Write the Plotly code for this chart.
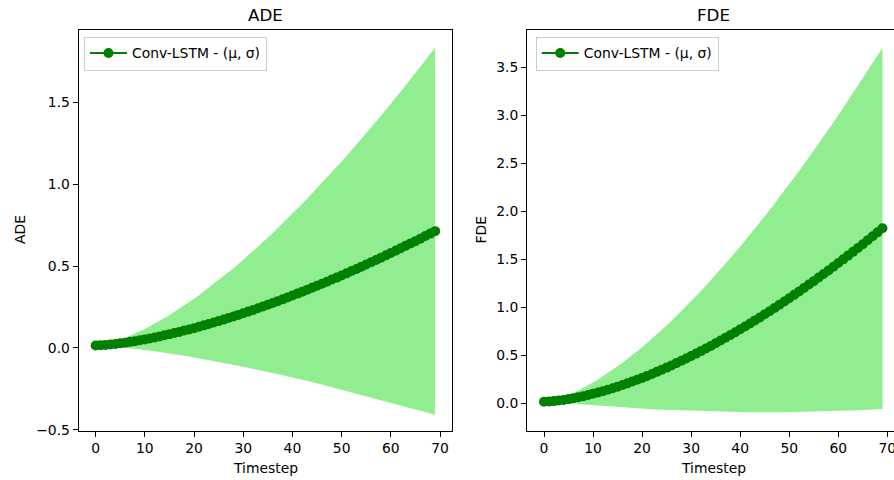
import numpy as np
import plotly.graph_objects as go

# ---------------- data ----------------
timesteps = list(range(70))

ade_mean = [
    0.015, 0.016, 0.018, 0.021, 0.024, 0.028, 0.032, 0.037, 0.041, 0.047, 0.052, 0.058, 0.064, 0.070,
    0.077, 0.084, 0.091, 0.098, 0.106, 0.113, 0.121, 0.129, 0.138, 0.146, 0.155, 0.164, 0.173, 0.183,
    0.192, 0.202, 0.212, 0.222, 0.232, 0.243, 0.253, 0.264, 0.275, 0.286, 0.297, 0.309, 0.320, 0.332,
    0.344, 0.356, 0.368, 0.380, 0.392, 0.405, 0.418, 0.430, 0.443, 0.456, 0.470, 0.483, 0.497, 0.510,
    0.524, 0.538, 0.552, 0.566, 0.580, 0.595, 0.609, 0.624, 0.639, 0.653, 0.668, 0.684, 0.699, 0.714,
]
ade_std = [
    0.000, 0.002, 0.006, 0.011, 0.017, 0.023, 0.030, 0.038, 0.046, 0.055, 0.064, 0.074, 0.084, 0.095,
    0.106, 0.117, 0.129, 0.141, 0.154, 0.166, 0.180, 0.193, 0.207, 0.221, 0.235, 0.250, 0.265, 0.280,
    0.295, 0.311, 0.327, 0.343, 0.360, 0.377, 0.394, 0.411, 0.428, 0.446, 0.464, 0.482, 0.501, 0.519,
    0.538, 0.557, 0.577, 0.596, 0.616, 0.636, 0.656, 0.676, 0.697, 0.717, 0.738, 0.759, 0.781, 0.802,
    0.824, 0.846, 0.868, 0.890, 0.913, 0.935, 0.958, 0.981, 1.004, 1.027, 1.051, 1.074, 1.098, 1.122,
]
fde_mean = [
    0.017, 0.019, 0.023, 0.029, 0.036, 0.044, 0.053, 0.063, 0.074, 0.086, 0.099, 0.112, 0.127, 0.142,
    0.157, 0.174, 0.191, 0.208, 0.227, 0.246, 0.265, 0.286, 0.306, 0.328, 0.350, 0.372, 0.395, 0.419,
    0.443, 0.467, 0.493, 0.518, 0.544, 0.571, 0.598, 0.626, 0.654, 0.683, 0.712, 0.741, 0.771, 0.801,
    0.832, 0.864, 0.895, 0.928, 0.960, 0.993, 1.027, 1.061, 1.095, 1.130, 1.165, 1.201, 1.237, 1.273,
    1.310, 1.347, 1.384, 1.422, 1.461, 1.500, 1.539, 1.578, 1.618, 1.658, 1.699, 1.740, 1.781, 1.823,
]
fde_std = [
    0.000, 0.004, 0.012, 0.021, 0.032, 0.044, 0.057, 0.071, 0.086, 0.102, 0.119, 0.136, 0.154, 0.173,
    0.192, 0.212, 0.233, 0.254, 0.275, 0.297, 0.320, 0.343, 0.367, 0.391, 0.415, 0.440, 0.466, 0.492,
    0.518, 0.544, 0.572, 0.599, 0.627, 0.655, 0.684, 0.712, 0.742, 0.771, 0.801, 0.832, 0.862, 0.893,
    0.925, 0.956, 0.988, 1.021, 1.053, 1.086, 1.119, 1.153, 1.186, 1.221, 1.255, 1.290, 1.325, 1.360,
    1.395, 1.431, 1.467, 1.503, 1.540, 1.577, 1.614, 1.651, 1.689, 1.727, 1.765, 1.803, 1.842, 1.881,
]

series_name = "Conv-LSTM - (\u03bc, \u03c3)"
panel_titles = ["ADE", "FDE"]
x_label = "Timestep"
x_ticks = [0, 10, 20, 30, 40, 50, 60, 70]
ade_ticks = [-0.5, 0.0, 0.5, 1.0, 1.5]
fde_ticks = [0.0, 0.5, 1.0, 1.5, 2.0, 2.5, 3.0, 3.5]

# ---------------- styling ----------------
W, H = 894, 480
FONT = "DejaVu Sans"
FILL = "#90EE90"
LINE = "#008000"
TICK_FS = 13.9
TITLE_FS = 16.7


def fmt(v):
    s = "%.1f" % v
    return s.replace("-", "\u2212")


fig = go.Figure()

panels = [
    (ade_mean, ade_std, "x", "y", "legend"),
    (fde_mean, fde_std, "x2", "y2", "legend2"),
]
for mean, std, xa, ya, lg in panels:
    m = np.array(mean)
    s = np.array(std)
    fig.add_trace(go.Scatter(x=timesteps, y=m + s, mode="lines", line=dict(width=0, color=FILL),
                             showlegend=False, hoverinfo="skip", xaxis=xa, yaxis=ya))
    fig.add_trace(go.Scatter(x=timesteps, y=m - s, mode="lines", line=dict(width=0, color=FILL),
                             fill="tonexty", fillcolor=FILL, showlegend=False, hoverinfo="skip",
                             xaxis=xa, yaxis=ya))
    fig.add_trace(go.Scatter(x=timesteps, y=m, mode="lines+markers", name=series_name,
                             line=dict(color=LINE, width=2.1),
                             marker=dict(color=LINE, size=10, line=dict(width=0)),
                             legend=lg, xaxis=xa, yaxis=ya))


def px_x(p):
    return p / W


def px_y(p):
    return 1 - p / H


axis_common = dict(
    showgrid=False, zeroline=False, showline=True, linecolor="black", linewidth=1,
    ticks="outside", ticklen=5, tickwidth=1, tickcolor="black", ticklabeloverflow="allow",
    tickfont=dict(family=FONT, size=TICK_FS, color="black"), automargin=False,
)

legend_common = dict(xanchor="left", yanchor="top", xref="paper", yref="paper",
                     bgcolor="rgba(255,255,255,0.8)", bordercolor="#cccccc", borderwidth=1,
                     font=dict(family=FONT, size=TICK_FS, color="black"), itemwidth=37)

fig.update_layout(
    width=W, height=H, margin=dict(l=0, r=0, t=0, b=0),
    paper_bgcolor="white", plot_bgcolor="white",
    xaxis=dict(domain=[px_x(78.7), px_x(452.1)], range=[-3.45, 72.45], anchor="y", mirror=True,
               tickvals=x_ticks, ticktext=[str(v) for v in x_ticks], **axis_common),
    yaxis=dict(domain=[px_y(430.5), px_y(30)], range=[-0.505, 1.944], anchor="x", mirror=True,
               tickvals=ade_ticks, ticktext=[fmt(v) for v in ade_ticks], **axis_common),
    xaxis2=dict(domain=[px_x(527.1), 1.0], range=[-3.45, 71.36], anchor="y2", mirror=True,
                tickvals=x_ticks, ticktext=[str(v) for v in x_ticks], **axis_common),
    yaxis2=dict(domain=[px_y(430.5), px_y(30)], range=[-0.283, 3.889], anchor="x2", mirror=False,
                tickvals=fde_ticks, ticktext=[fmt(v) for v in fde_ticks], **axis_common),
    legend=dict(x=px_x(84), y=px_y(36.5), **legend_common),
    legend2=dict(x=px_x(535.7), y=px_y(36.5), **legend_common),
    font=dict(family=FONT, color="black"),
)

ann = []
centers = [(78.7 + 452.1) / 2, (527.1 + 899.4) / 2]
ylabel_x = [20, 480.5]
for i, title in enumerate(panel_titles):
    ann.append(dict(x=px_x(centers[i]), y=px_y(15), xref="paper", yref="paper", text=title,
                    showarrow=False, xanchor="center", yanchor="middle",
                    font=dict(family=FONT, size=TITLE_FS, color="black")))
    ann.append(dict(x=px_x(centers[i]), y=px_y(468), xref="paper", yref="paper", text=x_label,
                    showarrow=False, xanchor="center", yanchor="middle",
                    font=dict(family=FONT, size=TICK_FS, color="black")))
    ann.append(dict(x=px_x(ylabel_x[i]), y=px_y(230), xref="paper", yref="paper", text=title,
                    showarrow=False, xanchor="center", yanchor="middle", textangle=-90,
                    font=dict(family=FONT, size=TICK_FS, color="black")))
fig.update_layout(annotations=ann)

fig.write_html("out.html")
